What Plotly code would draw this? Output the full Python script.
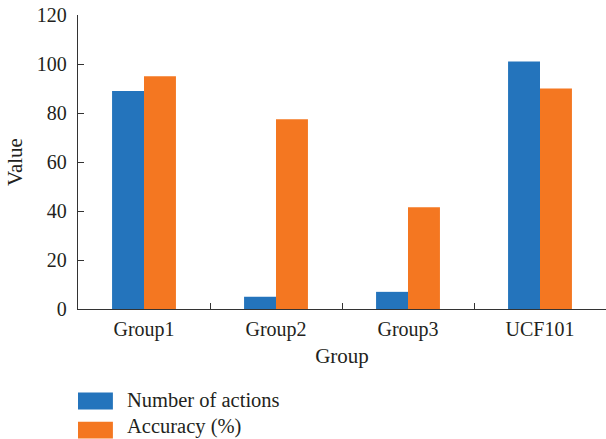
import plotly.graph_objects as go

categories = ["Group1", "Group2", "Group3", "UCF101"]
series_names = ["Number of actions", "Accuracy (%)"]
num_actions = [89, 5, 7, 101]
accuracy = [95, 77.5, 41.5, 90]
y_ticks = [0, 20, 40, 60, 80, 100, 120]

colors = ["#2474BC", "#F47721"]
FONT = "Liberation Serif"
TXT = "#231F20"

W, H = 606, 439
L, R, T, B = 78, 0, 15, 130
pw, ph = W - L - R, H - T - B

def px_x(x):
    return (x - L) / pw

def px_y(y):
    return (H - B - y) / ph

fig = go.Figure()
for name, vals, c in zip(series_names, [num_actions, accuracy], colors):
    fig.add_trace(go.Bar(x=categories, y=vals, name=name, marker_color=c,
                         marker_line_width=0, showlegend=False))

# custom legend
sw = [(392.5, 409.5, 400), (421.7, 438.4, 426)]
for (y0, y1, yc), name, c in zip(sw, series_names, colors):
    fig.add_shape(type="rect", xref="paper", yref="paper",
                  x0=px_x(78), x1=px_x(112.9), y0=px_y(y1), y1=px_y(y0),
                  fillcolor=c, line_width=0)
    fig.add_annotation(xref="paper", yref="paper", x=px_x(126), y=px_y(yc),
                       text=name, showarrow=False, xanchor="left", yanchor="middle",
                       borderpad=0,
                       font=dict(family=FONT, size=20.5, color=TXT))

fig.update_layout(
    width=W, height=H,
    margin=dict(l=L, r=R, t=T, b=B),
    paper_bgcolor="white", plot_bgcolor="white",
    barmode="group", bargap=0.516, bargroupgap=0,
    font=dict(family=FONT, size=20, color=TXT),
)
fig.update_xaxes(
    range=[-0.5, 3.5], showline=True, linecolor="#333", linewidth=1.3,
    ticks="inside", tickson="boundaries", ticklen=6, tickcolor="#333", tickwidth=1.3,
    showgrid=False, zeroline=False,
    tickfont=dict(family=FONT, size=20, color=TXT),
    title=dict(text="Group", standoff=8, font=dict(family=FONT, size=21, color=TXT)),
    ticklabelstandoff=2,
)
fig.update_yaxes(
    range=[0, 120], tickvals=y_ticks, showline=True, linecolor="#333", linewidth=1.3,
    ticks="inside", ticklen=6, tickcolor="#333", tickwidth=1.3,
    showgrid=False, zeroline=False,
    tickfont=dict(family=FONT, size=20, color=TXT),
    title=dict(text="Value", standoff=8, font=dict(family=FONT, size=21, color=TXT)),
    ticklabelstandoff=6,
)
fig.write_html("out.html")
